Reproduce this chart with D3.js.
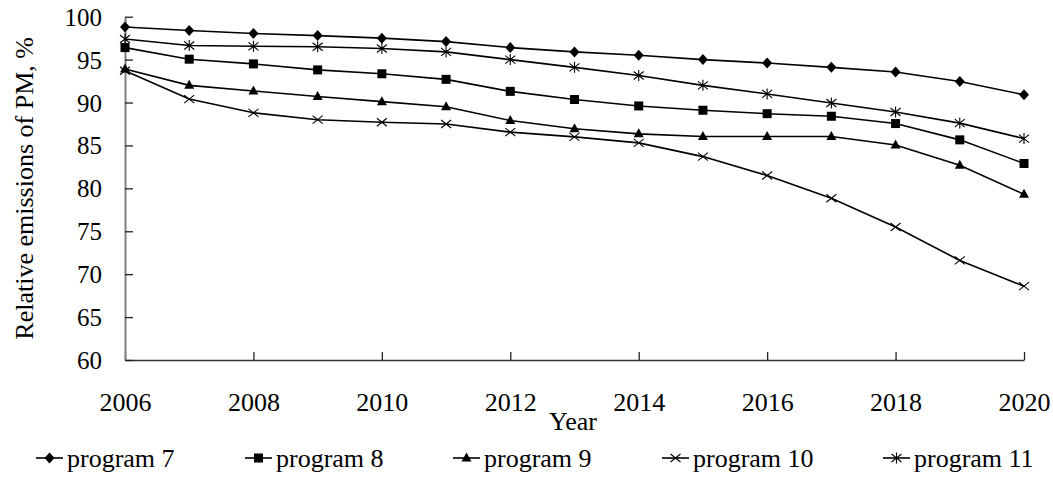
<!DOCTYPE html>
<html><head><meta charset="utf-8">
<script src="https://cdn.jsdelivr.net/npm/d3@7"></script>
<style>body{margin:0;background:#fff;} svg{display:block;font-family:"Liberation Serif","Times New Roman",serif;}</style>
</head><body>
<svg id="c" width="1053" height="477"></svg>
<script>
const years = [2006,2007,2008,2009,2010,2011,2012,2013,2014,2015,2016,2017,2018,2019,2020];
const xTicks = [2006,2008,2010,2012,2014,2016,2018,2020];
const yTicks = [60,65,70,75,80,85,90,95,100];
const seriesNames = ["program 7","program 8","program 9","program 10","program 11"];
const program7  = [98.8,98.4,98.05,97.8,97.5,97.1,96.4,95.9,95.5,95.0,94.6,94.1,93.55,92.45,90.9];
const program8  = [96.4,95.05,94.5,93.8,93.35,92.7,91.3,90.35,89.6,89.1,88.7,88.4,87.55,85.65,82.9];
const program9  = [93.9,92.0,91.35,90.7,90.1,89.5,87.9,86.95,86.35,86.05,86.05,86.05,85.05,82.7,79.3];
const program10 = [93.7,90.4,88.8,88.0,87.7,87.5,86.55,86.0,85.3,83.7,81.5,78.85,75.5,71.6,68.6];
const program11 = [97.4,96.65,96.55,96.5,96.3,95.9,95.0,94.1,93.15,92.0,91.0,89.95,88.9,87.6,85.8];
const seriesValues = [program7,program8,program9,program10,program11];
const markerTypes = ["diamond","square","triangle","cross","star"];

const svg = d3.select("#c");
const mLeft = 125, mRight = 1024, mTop = 16.7, mBottom = 360;
const x = d3.scaleLinear().domain([2006,2020]).range([mLeft,mRight]);
const y = d3.scaleLinear().domain([60,100]).range([mBottom,mTop]);
const FONT = "Liberation Serif";

// axes
const gx = svg.append("g").attr("transform",`translate(0,${mBottom})`)
  .call(d3.axisBottom(x).tickValues(xTicks).tickFormat(d3.format("d")).tickSizeInner(-8).tickSizeOuter(0));
gx.attr("font-family",FONT);
gx.select(".domain").attr("stroke","#333").attr("stroke-width",1.6);
gx.selectAll(".tick line").attr("stroke","#222").attr("stroke-width",1.3);
gx.selectAll(".tick text").attr("font-size",26).attr("fill","#000").attr("dy",null).attr("y",51);

const gy = svg.append("g").attr("transform",`translate(${mLeft},0)`)
  .call(d3.axisLeft(y).tickValues(yTicks).tickSizeInner(-8).tickSizeOuter(0));
gy.attr("font-family",FONT);
gy.select(".domain").attr("stroke","#808080").attr("stroke-width",2);
gy.selectAll(".tick line").attr("stroke","#222").attr("stroke-width",1.3);
gy.selectAll(".tick text").attr("font-size",25).attr("fill","#000").attr("dy",null).attr("y",8.5).attr("x",-23);

svg.append("text").attr("x",573).attr("y",430).attr("text-anchor","middle")
  .attr("font-family",FONT).attr("font-size",26).text("Year");
svg.append("text").attr("transform",`translate(33,${(mTop+mBottom)/2}) rotate(-90)`).attr("text-anchor","middle")
  .attr("font-family",FONT).attr("font-size",26).text("Relative emissions of PM, %");

function marker(g, type, cx, cy){
  if(type==="diamond"){
    g.append("path").attr("d",`M${cx},${cy-5.5}L${cx+5},${cy}L${cx},${cy+5.5}L${cx-5},${cy}Z`).attr("fill","#000");
  } else if(type==="square"){
    g.append("rect").attr("x",cx-4.5).attr("y",cy-4.5).attr("width",9).attr("height",9).attr("fill","#000");
  } else if(type==="triangle"){
    g.append("path").attr("d",`M${cx},${cy-5.5}L${cx+5},${cy+3.5}L${cx-5},${cy+3.5}Z`).attr("fill","#000");
  } else if(type==="cross"){
    g.append("path").attr("d",`M${cx-5},${cy-4}L${cx+5},${cy+4}M${cx-5},${cy+4}L${cx+5},${cy-4}`).attr("stroke","#000").attr("stroke-width",1.1).attr("fill","none");
  } else if(type==="star"){
    g.append("path").attr("d",`M${cx-5},${cy-4}L${cx+5},${cy+4}M${cx-5},${cy+4}L${cx+5},${cy-4}M${cx},${cy-5.5}L${cx},${cy+5.5}`).attr("stroke","#000").attr("stroke-width",1.1).attr("fill","none");
  }
}

const line = d3.line().x((d,i)=>x(years[i])).y(d=>y(d));
seriesValues.forEach((vals,si)=>{
  const g = svg.append("g");
  g.append("path").datum(vals).attr("d",line).attr("fill","none").attr("stroke","#000").attr("stroke-width",1.6);
  vals.forEach((v,i)=>marker(g, markerTypes[si], x(years[i]), y(v)));
});

// legend
const legendX = [36,245,453,662,883];
const ly = 458;
seriesNames.forEach((n,i)=>{
  const g = svg.append("g");
  const x0 = legendX[i];
  g.append("line").attr("x1",x0).attr("x2",x0+27).attr("y1",ly).attr("y2",ly).attr("stroke","#000").attr("stroke-width",1.6);
  marker(g, markerTypes[i], x0+13.5, ly);
  g.append("text").attr("x",x0+31).attr("y",ly+9).attr("font-family",FONT).attr("font-size",26).text(n);
});
</script>
</body></html>
